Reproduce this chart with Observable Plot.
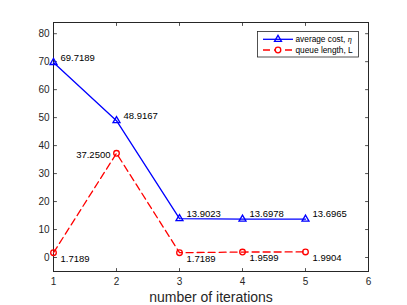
<!DOCTYPE html>
<html>
<head>
<meta charset="utf-8">
<script src="https://cdn.jsdelivr.net/npm/d3@7"></script>
<script src="https://cdn.jsdelivr.net/npm/@observablehq/plot@0.6"></script>
<style>
  html, body { margin: 0; padding: 0; background: #fff; }
  #wrap { position: relative; width: 407px; height: 305px; }
  #legend { position: absolute; left: 257px; top: 31px; }
</style>
</head>
<body>
<div id="wrap"></div>
<script>
const iterations = [1, 2, 3, 4, 5];
const avgCost = [69.7189, 48.9167, 13.9023, 13.6978, 13.6965];
const queueLength = [1.7189, 37.2500, 1.7189, 1.9599, 1.9904];
const xTicks = [1, 2, 3, 4, 5, 6];
const yTicks = [0, 10, 20, 30, 40, 50, 60, 70, 80];
const xDomain = [1, 6];
const yDomain = [-5, 84];
const xLabel = "number of iterations";
const seriesNames = ["average cost, ", "queue length, L"];

const costData = iterations.map((x, i) => ({x, y: avgCost[i]}));
const queueData = iterations.map((x, i) => ({x, y: queueLength[i]}));

const fmt = d3.format(".4f");
const axisColor = "#262626";
const tickShape = {draw(context, l) { context.moveTo(0, 0); context.lineTo(0, -l); }};

const chart = Plot.plot({
  width: 407,
  height: 305,
  marginLeft: 53,
  marginRight: 39,
  marginTop: 22,
  marginBottom: 34,
  style: {fontFamily: "'Liberation Sans', Arial, sans-serif", fontSize: "10px", color: axisColor, background: "#fff"},
  x: {domain: xDomain},
  y: {domain: yDomain},
  marks: [
    Plot.axisX(xTicks, {tickSize: 0, tickPadding: 6, fontSize: 10, label: null, fill: axisColor}),
    Plot.axisY(yTicks, {tickSize: 0, tickPadding: 4, fontSize: 10, label: null, fill: axisColor}),
    Plot.vector(xTicks, {x: d => d, frameAnchor: "bottom", length: 3, rotate: 0, anchor: "start", shape: tickShape, stroke: axisColor, strokeWidth: 0.8}),
    Plot.vector(xTicks, {x: d => d, frameAnchor: "top", length: 3, rotate: 180, anchor: "start", shape: tickShape, stroke: axisColor, strokeWidth: 0.8}),
    Plot.vector(yTicks, {y: d => d, frameAnchor: "left", length: 3, rotate: 90, anchor: "start", shape: tickShape, stroke: axisColor, strokeWidth: 0.8}),
    Plot.vector(yTicks, {y: d => d, frameAnchor: "right", length: 3, rotate: -90, anchor: "start", shape: tickShape, stroke: axisColor, strokeWidth: 0.8}),
    Plot.frame({stroke: axisColor, strokeWidth: 1}),
    Plot.line(costData, {x: "x", y: "y", stroke: "#0000ff", strokeWidth: 1.3}),
    Plot.dot(costData, {x: "x", y: "y", symbol: "triangle", r: 2.6, stroke: "#0000ff", fill: "none", strokeWidth: 1.3}),
    Plot.line(queueData, {x: "x", y: "y", stroke: "#ff0000", strokeWidth: 1.3, strokeDasharray: "7,4"}),
    Plot.dot(queueData, {x: "x", y: "y", symbol: "circle", r: 2.8, stroke: "#ff0000", fill: "none", strokeWidth: 1.3}),
    Plot.text(costData, {x: "x", y: "y", text: d => fmt(d.y), textAnchor: "start", dx: 7, dy: -5, fill: "#000", fontSize: 9.5}),
    Plot.text(queueData, {filter: d => d.x !== 2, x: "x", y: "y", text: d => fmt(d.y), textAnchor: "start", dx: 7, dy: 6, fill: "#000", fontSize: 9.5}),
    Plot.text(queueData, {filter: d => d.x === 2, x: "x", y: "y", text: d => fmt(d.y), textAnchor: "end", dx: -6, dy: 2, fill: "#000", fontSize: 9.5}),
    Plot.text([xLabel], {frameAnchor: "bottom", text: d => d, dy: 26, lineAnchor: "middle", fontSize: 14, fill: axisColor})
  ]
});

const wrap = document.getElementById("wrap");
wrap.appendChild(chart);

// Legend (MATLAB-style box in upper right)
const legend = document.createElement("div");
legend.id = "legend";
legend.innerHTML = `
<svg width="103" height="27" xmlns="http://www.w3.org/2000/svg" style="display:block">
  <rect x="0.5" y="0.5" width="101" height="25.5" fill="#fff" stroke="${axisColor}" stroke-width="0.8"/>
  <line x1="6" y1="8.3" x2="36" y2="8.3" stroke="#0000ff" stroke-width="1.3"/>
  <path d="M21,4.3 L24.5,10.3 L17.5,10.3 Z" fill="none" stroke="#0000ff" stroke-width="1.3"/>
  <text x="38.5" y="11.3" font-family="'Liberation Sans', Arial, sans-serif" font-size="8.3" fill="#000">${seriesNames[0]}<tspan font-family="'Liberation Serif', serif" font-style="italic">η</tspan></text>
  <line x1="6" y1="19" x2="36" y2="19" stroke="#ff0000" stroke-width="1.3" stroke-dasharray="7,4"/>
  <circle cx="21" cy="19" r="2.8" fill="#fff" stroke="#ff0000" stroke-width="1.3"/>
  <text x="38.5" y="22" font-family="'Liberation Sans', Arial, sans-serif" font-size="8.3" fill="#000">${seriesNames[1]}</text>
</svg>`;
wrap.appendChild(legend);
</script>
</body>
</html>
